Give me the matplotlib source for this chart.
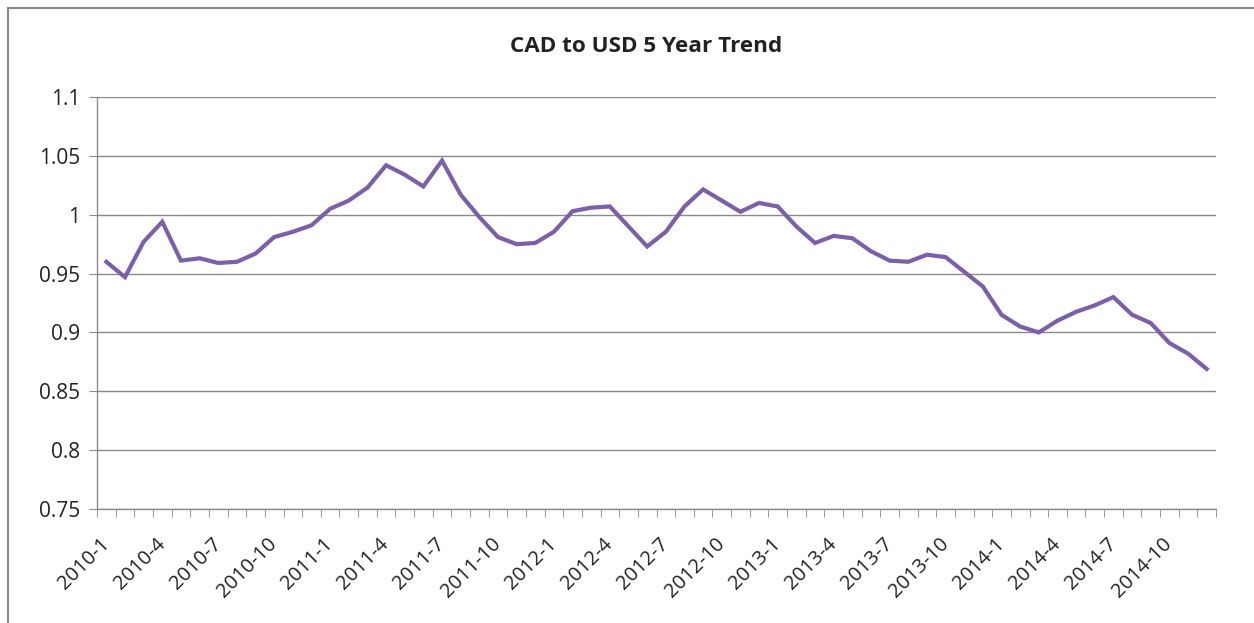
import matplotlib.pyplot as plt
from matplotlib.patches import Rectangle

# Monthly CAD->USD rate, Jan 2010 to Dec 2014
years = [2010, 2011, 2012, 2013, 2014]
months = [f"{y}-{m}" for y in years for m in range(1, 13)]
rates = [
    0.960, 0.947, 0.977, 0.994, 0.961, 0.963, 0.959, 0.960, 0.967, 0.981, 0.9855, 0.991,
    1.005, 1.012, 1.023, 1.042, 1.034, 1.024, 1.046, 1.017, 0.998, 0.981, 0.975, 0.976,
    0.9855, 1.003, 1.006, 1.007, 0.990, 0.973, 0.9855, 1.007, 1.0215, 1.012, 1.0025, 1.010,
    1.007, 0.990, 0.976, 0.982, 0.980, 0.969, 0.961, 0.960, 0.966, 0.964, 0.9515, 0.939,
    0.915, 0.905, 0.900, 0.910, 0.9175, 0.923, 0.930, 0.915, 0.908, 0.891, 0.882, 0.869,
]
yticks = [0.75, 0.8, 0.85, 0.9, 0.95, 1, 1.05, 1.1]
ytick_labels = ["0.75", "0.8", "0.85", "0.9", "0.95", "1", "1.05", "1.1"]

plt.rcParams['font.family'] = ['Open Sans', 'DejaVu Sans']

fig = plt.figure(figsize=(12.54, 6.23), dpi=100)
ax = fig.add_axes([97 / 1254, 1 - 509 / 623, (1216 - 97) / 1254, (509 - 97) / 623])

x = list(range(len(months)))
ax.plot(x, rates, color='#7b5fa8', linewidth=3.0, solid_joinstyle='miter')

ax.set_xlim(-0.5, len(months) - 0.5)
ax.set_ylim(0.75, 1.1)
ax.set_yticks(yticks)
ax.set_yticklabels(ytick_labels, fontsize=15, color='#222222')
ax.yaxis.grid(True, color='#8a8a8a', linewidth=1.0)
ax.set_axisbelow(True)

# labels every quarter, tick marks between categories
ax.set_xticks(x[::3])
ax.set_xticklabels(months[::3], rotation=45, ha='right', va='center', rotation_mode='anchor',
                   fontsize=14.5, color='#222222')
ax.tick_params(axis='x', length=0, pad=23)
ax.set_xticks([i - 0.5 for i in range(len(months) + 1)], minor=True)
ax.tick_params(axis='x', which='minor', length=6, color='#8a8a8a')
ax.tick_params(axis='y', length=6, color='#8a8a8a', pad=6)

for side in ['top', 'right']:
    ax.spines[side].set_visible(False)
for side in ['left', 'bottom']:
    ax.spines[side].set_color('#8a8a8a')
    ax.spines[side].set_linewidth(1.0)

fig.text(0.5155, 1 - 46 / 623, "CAD to USD 5 Year Trend", ha='center', va='center',
         fontsize=16.2, fontweight='bold', color='#222222')

# chart frame
fig.patches.append(Rectangle((8 / 1254, -0.05), 1.2, 1.05 - 8 / 623, transform=fig.transFigure,
                             fill=False, edgecolor='#8a8a8a', linewidth=1.5))

fig.savefig('out.png', dpi=100)
